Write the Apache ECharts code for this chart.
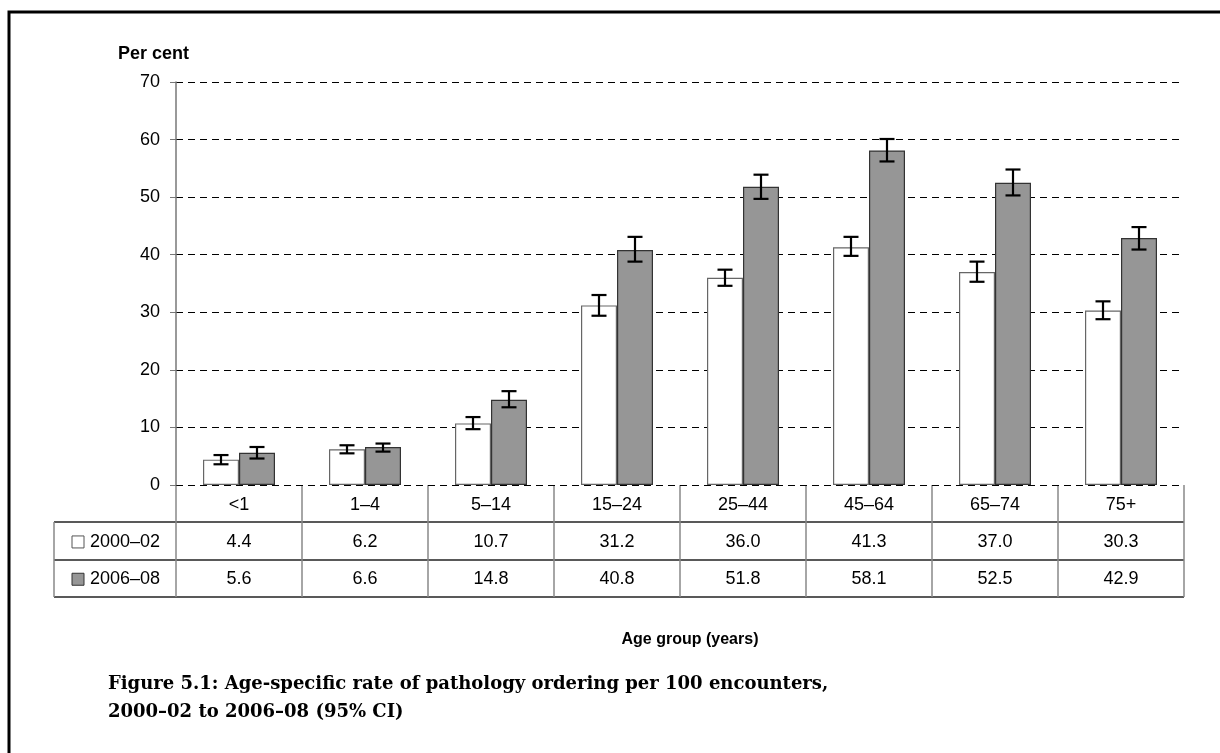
<!DOCTYPE html>
<html>
<head>
<meta charset="UTF-8">
<title>Pathology ordering by age</title>
<script src="https://cdn.jsdelivr.net/npm/echarts@6/dist/echarts.min.js"></script>
<style>
  body { margin: 0; background: #fff; }
  #root { width: 1220px; height: 753px; }
</style>
</head>
<body>
<div id="root"></div>
<script>
// data
var categories = ['<1', '1–4', '5–14', '15–24', '25–44', '45–64', '65–74', '75+'];
var seriesNames = ['2000–02', '2006–08'];
var rate2000 = [4.4, 6.2, 10.7, 31.2, 36.0, 41.3, 37.0, 30.3];
var rate2006 = [5.6, 6.6, 14.8, 40.8, 51.8, 58.1, 52.5, 42.9];
// 95% CI, estimated from the error bars
var lcl2000 = [3.6, 5.5, 9.7, 29.4, 34.6, 39.8, 35.3, 28.8];
var ucl2000 = [5.2, 6.9, 11.8, 33.0, 37.4, 43.1, 38.8, 31.9];
var lcl2006 = [4.6, 5.8, 13.5, 38.8, 49.7, 56.2, 50.3, 40.9];
var ucl2006 = [6.6, 7.2, 16.3, 43.1, 53.9, 60.1, 54.8, 44.8];
var yTicks = [0, 10, 20, 30, 40, 50, 60, 70];

var FONT = 'Liberation Sans';
var plot = { left: 176, right: 1184, top: 82, bottom: 485 };
var tableLeft = 54;
var rowH = 37.3;
var barW = 36;

var chart = echarts.init(document.getElementById('root'));

function ciData(lo, hi) {
  return lo.map(function (v, i) { return [i, v, hi[i]]; });
}

function errorBars(offset) {
  return function (params, api) {
    var i = api.value(0);
    var lo = api.coord([i, api.value(1)]);
    var hi = api.coord([i, api.value(2)]);
    var x = lo[0] + offset;
    var cap = 7.5;
    var st = { stroke: '#000', lineWidth: 2.2 };
    return {
      type: 'group',
      children: [
        { type: 'line', shape: { x1: x, y1: lo[1], x2: x, y2: hi[1] }, style: st },
        { type: 'line', shape: { x1: x - cap, y1: lo[1], x2: x + cap, y2: lo[1] }, style: st },
        { type: 'line', shape: { x1: x - cap, y1: hi[1], x2: x + cap, y2: hi[1] }, style: st }
      ]
    };
  };
}

// table under the plot
function buildTable() {
  var els = [];
  var n = categories.length;
  var cw = (plot.right - plot.left) / n;
  var y0 = plot.bottom;
  var yEnd = y0 + rowH * 3;
  var lineDark = { stroke: '#222', lineWidth: 1.5 };
  var lineGrey = { stroke: '#888', lineWidth: 1.5 };

  [1, 2, 3].forEach(function (r) {
    var y = Math.round(y0 + rowH * r);
    els.push({ type: 'line', shape: { x1: tableLeft, y1: y, x2: plot.right, y2: y }, style: lineDark });
  });
  els.push({ type: 'line', shape: { x1: tableLeft, y1: Math.round(y0 + rowH), x2: tableLeft, y2: yEnd }, style: lineGrey });
  for (var c = 0; c <= n; c++) {
    var x = Math.round(plot.left + cw * c);
    els.push({ type: 'line', shape: { x1: x, y1: y0, x2: x, y2: yEnd }, style: lineGrey });
  }
  var rows = [categories,
    rate2000.map(function (v) { return v.toFixed(1); }),
    rate2006.map(function (v) { return v.toFixed(1); })];
  rows.forEach(function (row, r) {
    row.forEach(function (t, c) {
      els.push({
        type: 'text', x: plot.left + cw * (c + 0.5), y: y0 + rowH * (r + 0.5) + 1,
        style: { text: t, font: '18px ' + FONT, fill: '#000', align: 'center', verticalAlign: 'middle' }
      });
    });
  });
  // legend keys in the first column
  var keyFill = ['#fff', '#969696'];
  var keyStroke = ['#555', '#333'];
  seriesNames.forEach(function (name, s) {
    var cy = y0 + rowH * (s + 1.5) + 1;
    els.push({ type: 'rect', shape: { x: 72, y: cy - 6, width: 12, height: 12 },
      style: { fill: keyFill[s], stroke: keyStroke[s], lineWidth: 1 } });
    els.push({ type: 'text', x: 90, y: cy,
      style: { text: name, font: '18px ' + FONT, fill: '#000', align: 'left', verticalAlign: 'middle' } });
  });
  return els;
}

var captionFont = 'bold 18px "DejaVu Serif"';
var graphics = [
  // outer frame
  { type: 'polyline', shape: { points: [[9, 800], [9, 12], [1260, 12]] }, style: { stroke: '#000', lineWidth: 3, fill: null } },
  { type: 'text', x: 118, y: 54, style: { text: 'Per cent', font: 'bold 18px ' + FONT, fill: '#000', verticalAlign: 'middle' } },
  { type: 'text', x: 690, y: 640,
    style: { text: 'Age group (years)', font: 'bold 16px ' + FONT, fill: '#000', align: 'center', verticalAlign: 'middle' } },
  { type: 'text', x: 108, y: 684,
    style: { text: 'Figure 5.1: Age-specific rate of pathology ordering per 100 encounters,', font: captionFont, fill: '#000', verticalAlign: 'middle' } },
  { type: 'text', x: 108, y: 712,
    style: { text: '2000–02 to 2006–08 (95% CI)', font: captionFont, fill: '#000', verticalAlign: 'middle' } }
].concat(buildTable());

chart.setOption({
  animation: false,
  backgroundColor: '#fff',
  grid: { left: plot.left, right: 1220 - plot.right, top: plot.top, bottom: 753 - plot.bottom },
  xAxis: {
    type: 'category',
    data: categories,
    axisLine: { show: false },
    axisTick: { show: false },
    axisLabel: { show: false }
  },
  yAxis: {
    type: 'value',
    min: yTicks[0],
    max: yTicks[yTicks.length - 1],
    interval: 10,
    axisLine: { show: true, lineStyle: { color: '#777', width: 1.5 } },
    axisTick: { show: true, length: 6, lineStyle: { color: '#777' } },
    axisLabel: { margin: 16, fontFamily: FONT, fontSize: 18, color: '#000' },
    splitLine: { lineStyle: { color: '#000', type: [7, 5], width: 1 } }
  },
  series: [
    {
      name: seriesNames[0], type: 'bar', data: rate2000, barWidth: barW, barGap: '0%',
      itemStyle: { color: '#fff', borderColor: '#666', borderWidth: 1.2 }
    },
    {
      name: seriesNames[1], type: 'bar', data: rate2006, barWidth: barW, barGap: '0%',
      itemStyle: { color: '#969696', borderColor: '#333', borderWidth: 1.2 }
    },
    { type: 'custom', renderItem: errorBars(-barW / 2), data: ciData(lcl2000, ucl2000), z: 5 },
    { type: 'custom', renderItem: errorBars(barW / 2), data: ciData(lcl2006, ucl2006), z: 5 }
  ],
  graphic: graphics
});
</script>
</body>
</html>
